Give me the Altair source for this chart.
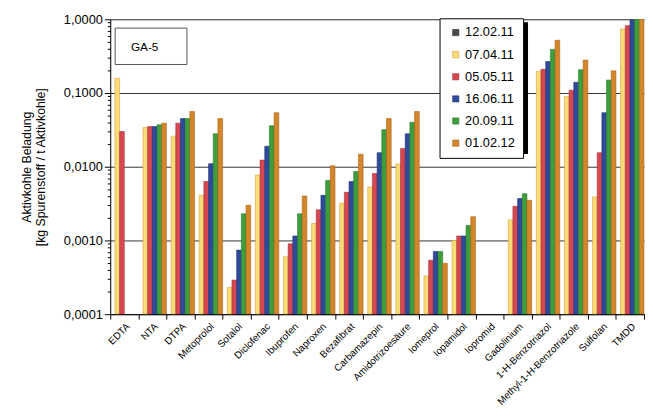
import altair as alt
import pandas as pd

categories = ["EDTA", "NTA", "DTPA", "Metoprolol", "Sotalol", "Diclofenac", "Ibuprofen",
              "Naproxen", "Bezafibrat", "Carbamazepin", "Amidotrizoesäure", "Iomeprol",
              "Iopamidol", "Iopromid", "Gadolinium", "1-H-Benzotriazol",
              "Methyl-1-H-Benzotriazole", "Sulfolan", "TMDD"]

series_names = ["12.02.11", "07.04.11", "05.05.11", "16.06.11", "20.09.11", "01.02.12"]

s_120211 = [None] * 19
s_070411 = [0.158, 0.034, 0.026, 0.0041, 0.00023, 0.0077, 0.00060, 0.0017, 0.0032, 0.0053,
            0.0109, 0.00033, 0.0010, None, 0.0019, 0.197, 0.090, 0.0039, 0.74]
s_050511 = [0.030, 0.035, 0.039, 0.0063, 0.00029, 0.0123, 0.0009, 0.0026, 0.0045, 0.0081,
            0.0177, 0.00054, 0.00115, None, 0.0029, 0.21, 0.109, 0.0155, 0.82]
s_160611 = [None, 0.035, 0.045, 0.011, 0.00074, 0.019, 0.00115, 0.0041, 0.0063, 0.0155,
            0.028, 0.00071, 0.00115, None, 0.0037, 0.267, 0.14, 0.054, 0.98]
s_200911 = [None, 0.037, 0.045, 0.028, 0.0023, 0.036, 0.0023, 0.0065, 0.0086, 0.0318,
            0.040, 0.00071, 0.0016, None, 0.0043, 0.39, 0.207, 0.15, 1.1]
s_010212 = [None, 0.039, 0.056, 0.045, 0.0030, 0.054, 0.0040, 0.0103, 0.0148, 0.045,
            0.056, 0.00049, 0.0021, None, 0.0035, 0.52, 0.28, 0.20, 1.2]

all_series = [s_120211, s_070411, s_050511, s_160611, s_200911, s_010212]

rows = []
for name, vals in zip(series_names, all_series):
    for c, v in zip(categories, vals):
        if v is not None:
            rows.append({"Stoff": c, "Datum": name, "Wert": v})
df = pd.DataFrame(rows)

fill_colors = ["#4a4a4a", "#f7dc78", "#d6474f", "#2f4a9b", "#3c9e3c", "#d4862a"]
stroke_colors = ["#222222", "#d9a13a", "#a8323a", "#1f3273", "#2a7a2a", "#a8641c"]

minor_vals = [k * 10.0 ** e for e in range(-4, 0) for k in range(1, 10)] + [1.0]
is_decade = "abs(log(datum.value)/LN10 - round(log(datum.value)/LN10)) < 0.001"

W, H = 543, 300

bars = alt.Chart(df).mark_bar(clip=True, strokeWidth=0.6).encode(
    x=alt.X("Stoff:N", sort=categories,
            scale=alt.Scale(domain=categories, paddingInner=0, paddingOuter=0),
            axis=alt.Axis(title=None, labelAngle=315, labelFontSize=10, labelColor="black",
                          labelAlign="right", labelBaseline="top", tickBand="extent",
                          tickColor="black", domainColor="black", labelPadding=2,
                          labelFont="Liberation Sans")),
    xOffset=alt.XOffset("Datum:N", sort=series_names,
                        scale=alt.Scale(domain=series_names, paddingInner=0, paddingOuter=0)),
    y=alt.Y("Wert:Q",
            scale=alt.Scale(type="log", domain=[0.0001, 1.0], nice=False),
            axis=alt.Axis(values=minor_vals,
                          labelExpr=f"{is_decade} ? replace(format(datum.value, '.4f'), '.', ',') : ''",
                          title=["Aktivkohle Beladung", "[kg Spurenstoff / t Aktivkohle]"],
                          titleFontSize=12.5, titleFontWeight="normal", titlePadding=16,
                          titleFont="Liberation Sans", labelFont="Liberation Sans",
                          labelFontSize=13, labelColor="black", titleColor="black",
                          tickColor="black", domainColor="black",
                          gridColor="#333333",
                          gridOpacity={"condition": {"test": is_decade, "value": 1}, "value": 0},
                          tickSize={"condition": {"test": is_decade, "value": 6}, "value": 3})),
    y2=alt.datum(0.0001),
    color=alt.Color("Datum:N", sort=series_names,
                    scale=alt.Scale(domain=series_names, range=fill_colors),
                    legend=alt.Legend(title=None, orient="none", legendX=335, legendY=-1,
                                      symbolType="square", symbolSize=40, symbolStrokeWidth=0.6,
                                      labelFontSize=13, labelFont="Liberation Sans",
                                      labelColor="black", rowPadding=8.5, padding=8,
                                      strokeColor="black", fillColor="white",
                                      symbolOffset=2, labelOffset=3)),
    stroke=alt.Stroke("Datum:N", sort=series_names,
                      scale=alt.Scale(domain=series_names, range=stroke_colors),
                      legend=None),
)

ann = pd.DataFrame({"label": ["GA-5"]})
shadow = alt.Chart(ann).mark_rect(color="black").encode(
    x=alt.value(340), x2=alt.value(425), y=alt.value(3), y2=alt.value(137))
box = alt.Chart(ann).mark_rect(fill="white", stroke="#555555", strokeWidth=1).encode(
    x=alt.value(5), x2=alt.value(78), y=alt.value(9), y2=alt.value(46))
box_text = alt.Chart(ann).mark_text(fontSize=12, font="Liberation Sans", color="black",
                                    align="center", baseline="middle").encode(
    x=alt.value(35), y=alt.value(28), text="label:N")

chart = alt.layer(bars, box, box_text, shadow).properties(
    width=W, height=H, padding={"left": 12, "top": 2, "right": 0, "bottom": 0}
).configure_view(stroke="black", strokeWidth=1).configure(background="white")

chart.save("out.html", embed_options={"renderer": "svg", "actions": False})
